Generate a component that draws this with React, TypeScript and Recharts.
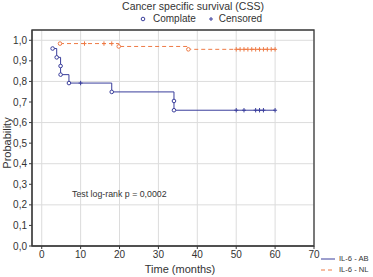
import React from 'react';
import {
	ComposedChart,
	Line,
	Scatter,
	XAxis,
	YAxis,
	CartesianGrid,
	ReferenceArea,
} from 'recharts';

// IL-6 - AB group: event times and survival right after each event
const abEventTimes = [2.8, 3.85, 4.85, 4.85, 7, 18, 34, 34];
const abEventProbs = [0.96, 0.917, 0.875, 0.833, 0.792, 0.749, 0.705, 0.66];
const abCensorTimes = [10, 50, 52, 55, 56, 57, 60];

// IL-6 - NL group
const nlEventTimes = [4.7, 19.8, 37.7];
const nlEventProbs = [0.984, 0.97, 0.956];
const nlCensorTimes = [11, 16, 18, 50, 51, 52, 53, 54, 55, 56, 57, 58, 59, 60];

const lastTime = 60;
const xTicks = [0, 10, 20, 30, 40, 50, 60, 70];
const yTicks = [0, 0.1, 0.2, 0.3, 0.4, 0.5, 0.6, 0.7, 0.8, 0.9, 1.0];

const BLUE = '#3a3e9c';
const ORANGE = '#ee7a45';
const FONT = '"Liberation Sans", Arial, sans-serif';

const events = (times: number[], probs: number[]) =>
	times.map((t, i) => ({ t, p: probs[i] }));

// step curve: last value at each distinct time, held to the end of follow-up
const stepCurve = (times: number[], probs: number[]) => {
	const pts: { t: number; p: number }[] = [];
	times.forEach((t, i) => {
		const prev = pts[pts.length - 1];
		if (prev && prev.t === t) prev.p = probs[i];
		else pts.push({ t, p: probs[i] });
	});
	pts.push({ t: lastTime, p: pts[pts.length - 1].p });
	return pts;
};

const censored = (censorTimes: number[], times: number[], probs: number[]) =>
	censorTimes.map((t) => {
		let p = probs[0];
		times.forEach((et, i) => {
			if (et <= t) p = probs[i];
		});
		return { t, p };
	});

const abCurve = stepCurve(abEventTimes, abEventProbs);
const nlCurve = stepCurve(nlEventTimes, nlEventProbs);

const OpenCircle = (color: string) => (props: any) => (
	<circle cx={props.cx} cy={props.cy} r={1.8} fill="#fff" stroke={color} strokeWidth={1} />
);

const Plus = (color: string) => (props: any) => (
	<g stroke={color} strokeWidth={1}>
		<line x1={props.cx - 2} y1={props.cy} x2={props.cx + 2} y2={props.cy} />
		<line x1={props.cx} y1={props.cy - 2.2} x2={props.cx} y2={props.cy + 2.2} />
	</g>
);

const txt: React.CSSProperties = {
	position: 'absolute',
	fontFamily: FONT,
	color: '#333',
	whiteSpace: 'nowrap',
	lineHeight: 1,
};

const App = () => {
	return (
		<div style={{ position: 'absolute', left: 0, top: 0, width: 373, height: 277, background: '#fff', overflow: 'hidden' }}>
			<ComposedChart
				width={373}
				height={277}
				margin={{ top: 30, right: 59, bottom: 0, left: 0 }}
			>
				<CartesianGrid stroke="#dcdcdc" strokeWidth={1} />
				<XAxis
					dataKey="t"
					type="number"
					domain={[-2.5, 70]}
					ticks={xTicks}
					allowDataOverflow
					height={31}
					tickSize={3}
					axisLine={{ stroke: '#3a3a3a' }}
					tickLine={{ stroke: '#3a3a3a' }}
					tick={{ fontSize: 10, fill: '#333', fontFamily: FONT }}
				/>
				<YAxis
					dataKey="p"
					type="number"
					domain={[0, 1.05]}
					ticks={yTicks}
					allowDataOverflow
					width={32}
					tickSize={3}
					tickMargin={2}
					axisLine={{ stroke: '#3a3a3a' }}
					tickLine={{ stroke: '#3a3a3a' }}
					tickFormatter={(v: number) => v.toFixed(1).replace('.', ',')}
					tick={{ fontSize: 10, fill: '#333', fontFamily: FONT }}
				/>
				<ReferenceArea
					x1={-2.5}
					x2={70}
					y1={0}
					y2={1.05}
					fill="none"
					stroke="#3a3a3a"
					strokeWidth={1.3}
					ifOverflow="visible"
				/>
				<Line
					data={nlCurve}
					dataKey="p"
					type="stepAfter"
					stroke={ORANGE}
					strokeWidth={1}
					strokeDasharray="4 3"
					dot={false}
					isAnimationActive={false}
				/>
				<Line
					data={abCurve}
					dataKey="p"
					type="stepAfter"
					stroke={BLUE}
					strokeWidth={1}
					dot={false}
					isAnimationActive={false}
				/>
				<Scatter
					data={censored(nlCensorTimes, nlEventTimes, nlEventProbs)}
					dataKey="p"
					shape={Plus(ORANGE)}
					isAnimationActive={false}
				/>
				<Scatter
					data={censored(abCensorTimes, abEventTimes, abEventProbs)}
					dataKey="p"
					shape={Plus(BLUE)}
					isAnimationActive={false}
				/>
				<Scatter
					data={events(nlEventTimes, nlEventProbs)}
					dataKey="p"
					shape={OpenCircle(ORANGE)}
					isAnimationActive={false}
				/>
				<Scatter
					data={events(abEventTimes, abEventProbs)}
					dataKey="p"
					shape={OpenCircle(BLUE)}
					isAnimationActive={false}
				/>
			</ComposedChart>

			<div style={{ ...txt, left: 0, width: 386, top: 1, textAlign: 'center', fontSize: 10.5 }}>
				Cancer specific survival (CSS)
			</div>
			<div style={{ ...txt, left: 139, top: 14, fontSize: 10, display: 'flex', alignItems: 'center' }}>
				<svg width={8} height={8} style={{ marginRight: 6 }}>
					<circle cx={4} cy={4} r={1.8} fill="#fff" stroke={BLUE} strokeWidth={1} />
				</svg>
				<span>Complate</span>
				<svg width={8} height={8} style={{ marginLeft: 11, marginRight: 4 }}>
					<line x1={2} y1={4} x2={6} y2={4} stroke={BLUE} />
					<line x1={4} y1={2} x2={4} y2={6} stroke={BLUE} />
				</svg>
				<span>Censored</span>
			</div>
			<div
				style={{
					...txt,
					left: 7,
					top: 143,
					fontSize: 11,
					transform: 'translate(-50%, -50%) rotate(-90deg)',
				}}
			>
				Probability
			</div>
			<div style={{ ...txt, left: 180, top: 264, fontSize: 11, transform: 'translateX(-50%)' }}>
				Time (months)
			</div>
			<div style={{ ...txt, left: 72, top: 190, fontSize: 8.8 }}>Test log-rank p = 0,0002</div>
			<div style={{ ...txt, left: 321, top: 255, fontSize: 7.6, display: 'flex', alignItems: 'center' }}>
				<svg width={15} height={6} style={{ marginRight: 3 }}>
					<line x1={0} y1={3} x2={14} y2={3} stroke={BLUE} strokeWidth={1} />
				</svg>
				<span>IL-6 - AB</span>
			</div>
			<div style={{ ...txt, left: 321, top: 266, fontSize: 7.6, display: 'flex', alignItems: 'center' }}>
				<svg width={15} height={6} style={{ marginRight: 3 }}>
					<line x1={0} y1={3} x2={14} y2={3} stroke={ORANGE} strokeWidth={1} strokeDasharray="4 3" />
				</svg>
				<span>IL-6 - NL</span>
			</div>
		</div>
	);
};

export default App;
